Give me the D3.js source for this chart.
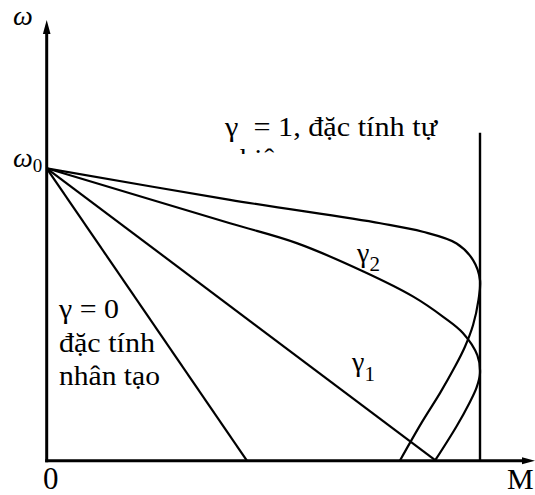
<!DOCTYPE html>
<html>
<head>
<meta charset="utf-8">
<script src="https://cdn.jsdelivr.net/npm/d3@7"></script>
</head>
<body style="margin:0">
<svg id="fig" width="535" height="495" style="display:block;background:#fff"></svg>
<script>
// Mechanical characteristics ω(M) of a motor for different γ values.
// Torque M is in units of the critical torque, speed ω in units of ω0.

const omega0 = 1;
const torqueCritical = 1;

// γ = 0 : artificial characteristic (straight line)
const gamma0Line = [[0, 1], [0.462, 0]];

// γ1 : straight line
const gamma1Line = [[0, 1], [0.898, 0]];

// γ2 : bends back after touching the critical torque
const gamma2Curve = [
  [0, 1], [0.423, 0.812], [0.577, 0.744], [0.731, 0.647], [0.846, 0.561],
  [0.915, 0.492], [0.961, 0.436], [0.994, 0.360], [1.0, 0.299],
  [0.992, 0.250], [0.975, 0.196], [0.946, 0.118], [0.896, 0]
];

// γ = 1 : natural characteristic
const gamma1NaturalCurve = [
  [0, 1], [0.423, 0.892], [0.770, 0.812], [0.868, 0.783], [0.946, 0.743],
  [0.984, 0.686], [1.0, 0.618], [0.9965, 0.550], [0.984, 0.464],
  [0.965, 0.389], [0.942, 0.321], [0.908, 0.232], [0.866, 0.132], [0.815, 0]
];

const xMax = 1.12;   // end of the M axis
const yMax = 1.5;    // end of the ω axis
const criticalTop = 1.122;

const svg = d3.select("#fig");

const x = d3.scaleLinear().domain([0, xMax]).range([46.7, 532]);
const y = d3.scaleLinear().domain([0, yMax]).range([460.7, 22.1]);

const line = d3.line().x(d => x(d[0])).y(d => y(d[1]));
const smooth = d3.line().x(d => x(d[0])).y(d => y(d[1])).curve(d3.curveCatmullRom.alpha(0.5));

function label(px, py, size, str) {
  return svg.append("text")
    .attr("x", px).attr("y", py)
    .attr("font-size", size)
    .attr("font-family", "Liberation Serif")
    .style("font-family", "'Liberation Serif'", "important")
    .attr("fill", "#000")
    .text(str);
}

// Axes
svg.append("line")
  .attr("x1", x(0)).attr("x2", x(0))
  .attr("y1", y(0) + 1.5).attr("y2", y(yMax) + 10)
  .attr("stroke", "#000").attr("stroke-width", 3);
svg.append("line")
  .attr("x1", x(0) - 1.5).attr("x2", x(xMax) - 8)
  .attr("y1", y(0)).attr("y2", y(0))
  .attr("stroke", "#000").attr("stroke-width", 3);

// Arrow heads
svg.append("path")
  .attr("d", `M${x(0)},${y(yMax) - 2} L${x(0) - 3.8},${y(yMax) + 12} L${x(0) + 3.8},${y(yMax) + 12} Z`)
  .attr("fill", "#000");
svg.append("path")
  .attr("d", `M${x(xMax) + 3},${y(0)} L${x(xMax) - 10},${y(0) - 3.5} L${x(xMax) - 10},${y(0) + 3.5} Z`)
  .attr("fill", "#000");

// Critical torque line
svg.append("line")
  .attr("x1", x(torqueCritical)).attr("x2", x(torqueCritical))
  .attr("y1", y(criticalTop)).attr("y2", y(0))
  .attr("stroke", "#000").attr("stroke-width", 2.4);

// Characteristics
const curves = svg.append("g")
  .attr("fill", "none").attr("stroke", "#000")
  .attr("stroke-width", 2.2).attr("stroke-linejoin", "round");
curves.append("path").attr("d", line(gamma0Line));
curves.append("path").attr("d", line(gamma1Line));
curves.append("path").attr("d", smooth(gamma2Curve));
curves.append("path").attr("d", smooth(gamma1NaturalCurve));

// Axis labels
label(13, 25, 28, "ω").attr("font-style", "italic");

const w0 = label(13, 167, 28, "");
w0.append("tspan").attr("font-style", "italic").text("ω");
w0.append("tspan").attr("font-size", 19).attr("dy", 5).text("0");

label(43, 489, 31, "0");
label(507, 489, 30, "M");

// γ = 1 label (second line cut off at the top)
label(225, 136, 27, "γ\u00a0\u00a0= 1, đặc tính tự")
  .attr("textLength", 212).attr("lengthAdjust", "spacingAndGlyphs");

svg.append("clipPath").attr("id", "cutLine")
  .append("rect").attr("x", 200).attr("y", 100).attr("width", 300).attr("height", 54);
label(225, 168, 27, "nhiên")
  .attr("textLength", 65).attr("lengthAdjust", "spacingAndGlyphs")
  .attr("clip-path", "url(#cutLine)");

// γ = 0 label
const g0 = [["γ = 0", 318, 60], ["đặc tính", 351.5, 96], ["nhân tạo", 385, 101]];
g0.forEach(([t, yy, w]) => {
  label(59, yy, 27, t).attr("textLength", w).attr("lengthAdjust", "spacingAndGlyphs");
});

// γ1, γ2 labels
const gl2 = label(357, 262, 28, "");
gl2.append("tspan").text("γ");
gl2.append("tspan").attr("font-size", 21).attr("dy", 9).text("2");

const gl1 = label(352, 371, 28, "");
gl1.append("tspan").text("γ");
gl1.append("tspan").attr("font-size", 21).attr("dy", 10).text("1");
</script>
</body>
</html>
